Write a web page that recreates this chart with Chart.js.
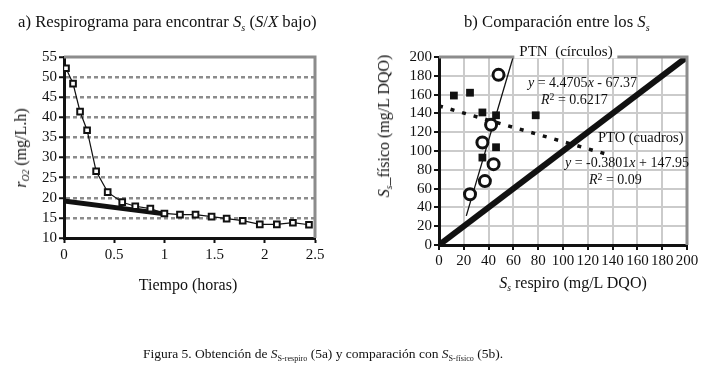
<!DOCTYPE html>
<html>
<head>
<meta charset="utf-8">
<script src="https://cdn.jsdelivr.net/npm/chart.js@4"></script>
<style>
  body { margin: 0; background: #fff; }
  #wrap { position: relative; width: 717px; height: 377px; overflow: hidden; font-family: "Liberation Serif", serif; color: #111; }
  canvas { position: absolute; left: 0; top: 0; }
  .t { position: absolute; white-space: nowrap; line-height: 1; }
  .t sub { font-size: 0.6em; vertical-align: -0.35em; }
  .t sup { font-size: 0.7em; vertical-align: 0.45em; }
  .rot { transform: translate(-50%, -50%) rotate(-90deg); }
  .ctr { transform: translate(-50%, -50%); }
</style>
</head>
<body>
<div id="wrap">
  <canvas id="chartA" width="717" height="377"></canvas>
  <canvas id="chartB" width="717" height="377"></canvas>

  <div class="t" style="left:18px;top:14px;font-size:16.7px">a) Respirograma para encontrar <i>S<sub>s</sub></i> (<i>S</i>/<i>X</i> bajo)</div>
  <div class="t" style="left:464px;top:14px;font-size:16.7px">b) Comparación entre los <i>S<sub>s</sub></i></div>

  <div class="t rot" style="left:22px;top:148px;font-size:16px"><i>r</i><sub><i>O2</i></sub> (mg/L.h)</div>
  <div class="t ctr" style="left:188px;top:285px;font-size:16px">Tiempo (horas)</div>

  <div class="t rot" style="left:385px;top:126px;font-size:16px"><i>S<sub>s</sub></i>_físico (mg/L DQO)</div>
  <div class="t ctr" style="left:573px;top:284px;font-size:16px"><i>S<sub>s</sub></i> respiro (mg/L DQO)</div>

  <div class="t ctr" style="left:566px;top:51px;font-size:15px;background:#fff;padding:0 5px">PTN&nbsp;&nbsp;(círculos)</div>
  <div class="t" style="left:528px;top:76px;font-size:14px"><i>y</i> = 4.4705<i>x</i> - 67.37</div>
  <div class="t" style="left:541px;top:92px;font-size:14px"><i>R</i><sup>2</sup> = 0.6217</div>
  <div class="t" style="left:598px;top:130px;font-size:14.5px">PTO (cuadros)</div>
  <div class="t" style="left:565px;top:156px;font-size:14px"><i>y</i> = -0.3801<i>x</i> + 147.95</div>
  <div class="t" style="left:589px;top:172px;font-size:14px"><i>R</i><sup>2</sup> = 0.09</div>

  <div class="t ctr" style="left:323px;top:355px;font-size:13.5px">Figura 5. Obtención de <i>S</i><sub>S-respiro</sub> (5a) y comparación con <i>S</i><sub>S-físico</sub> (5b).</div>
</div>
<script>
// a) respirograma
var tiempo = [0.02, 0.09, 0.16, 0.23, 0.32, 0.435, 0.58, 0.71, 0.86, 1.0, 1.155, 1.31, 1.47, 1.62, 1.78, 1.95, 2.12, 2.28, 2.44];
var rO2 = [52.2, 48.4, 41.4, 36.8, 26.6, 21.4, 18.9, 17.9, 17.3, 16.1, 15.8, 15.8, 15.3, 14.8, 14.3, 13.4, 13.4, 13.8, 13.3];
var baseT = [0, 1.0];
var baseR = [19.2, 16.0];

// b) comparacion
var circRespiro = [48, 42, 35, 44, 37, 25];
var circFisico = [181, 128, 109, 86, 68, 54];
var sqRespiro = [12, 25, 35, 46, 78, 46, 35];
var sqFisico = [159, 162, 141, 138, 138, 104, 93];
var circFit = [4.4705, -67.37], circFitX = [22, 59.8];
var sqFit = [-0.3801, 147.95], sqFitX = [0, 135];
var unoAuno = [0, 200];

var tickFont = { family: 'Liberation Serif', size: 15 };

// gray frame on top and right of the plot area
var frame = {
  id: 'frame',
  afterDatasetsDraw: function (chart) {
    var a = chart.chartArea, c = chart.ctx;
    c.save();
    c.strokeStyle = '#8c8c8c';
    c.lineWidth = 3;
    c.beginPath();
    c.moveTo(a.left, a.top);
    c.lineTo(a.right, a.top);
    c.lineTo(a.right, a.bottom);
    c.stroke();
    c.restore();
  }
};

function pts(xs, ys) {
  return xs.map(function (x, i) { return { x: x, y: ys[i] }; });
}
function fitLine(coef, xr) {
  return xr.map(function (x) { return { x: x, y: coef[0] * x + coef[1] }; });
}

new Chart(document.getElementById('chartA'), {
  type: 'line',
  data: {
    datasets: [{
      data: pts(tiempo, rO2),
      borderColor: '#111',
      borderWidth: 1.2,
      pointStyle: 'rect',
      pointRadius: 4,
      pointBorderWidth: 2,
      pointBackgroundColor: '#fff',
      pointBorderColor: '#111',
      order: 0
    }, {
      data: pts(baseT, baseR),
      borderColor: '#111',
      borderWidth: 5,
      pointRadius: 0,
      order: 1
    }]
  },
  options: {
    responsive: false,
    animation: false,
    plugins: { legend: { display: false }, tooltip: { enabled: false } },
    layout: { padding: { left: 24, top: 57, right: 402, bottom: 109 } },
    scales: {
      x: {
        type: 'linear', min: 0, max: 2.5,
        ticks: { stepSize: 0.5, color: '#111', font: tickFont, padding: 3, maxRotation: 0,
          callback: function (v) { return String(v); } },
        grid: { drawOnChartArea: false, tickLength: 5, tickColor: '#111', tickWidth: 2 },
        border: { color: '#111', width: 3 },
        afterFit: function (s) { s.height = 30; }
      },
      y: {
        min: 10, max: 55,
        ticks: { stepSize: 5, color: '#111', font: tickFont, padding: 2, autoSkip: false },
        grid: {
          color: function (ctx) { return (ctx.tick && ctx.tick.value > 10 && ctx.tick.value < 55) ? '#8c8c8c' : 'rgba(0,0,0,0)'; },
          lineWidth: 2.5, tickLength: 5, tickColor: '#111', tickWidth: 2
        },
        border: { color: '#111', width: 3, dash: [4, 3] },
        afterFit: function (s) { s.width = 40; }
      }
    }
  },
  plugins: [frame]
});

new Chart(document.getElementById('chartB'), {
  type: 'scatter',
  data: {
    datasets: [{
      data: pts(circRespiro, circFisico),
      pointStyle: 'circle',
      pointRadius: 5.5,
      pointBorderWidth: 3,
      pointBackgroundColor: '#fff',
      pointBorderColor: '#111',
      order: 0
    }, {
      data: pts(sqRespiro, sqFisico),
      pointStyle: 'rect',
      pointRadius: 5.5,
      pointBorderWidth: 0,
      pointBackgroundColor: '#111',
      order: 1
    }, {
      type: 'line',
      data: fitLine(circFit, circFitX),
      borderColor: '#111',
      borderWidth: 1.3,
      pointRadius: 0,
      order: 2
    }, {
      type: 'line',
      data: fitLine(sqFit, sqFitX),
      borderColor: '#111',
      borderWidth: 3.5,
      borderDash: [4, 8],
      pointRadius: 0,
      order: 3
    }, {
      type: 'line',
      data: pts(unoAuno, unoAuno),
      borderColor: '#111',
      borderWidth: 6,
      pointRadius: 0,
      order: 4
    }]
  },
  options: {
    responsive: false,
    animation: false,
    plugins: { legend: { display: false }, tooltip: { enabled: false } },
    layout: { padding: { left: 399, top: 57, right: 30, bottom: 102 } },
    scales: {
      x: {
        type: 'linear', min: 0, max: 200,
        ticks: { stepSize: 20, color: '#111', font: tickFont, padding: 2, maxRotation: 0, autoSkip: false },
        grid: { color: '#cbcbcb', lineWidth: 2, tickLength: 5, tickColor: '#111', tickWidth: 2 },
        border: { color: '#111', width: 3 },
        afterFit: function (s) { s.height = 30; }
      },
      y: {
        min: 0, max: 200,
        ticks: { stepSize: 20, color: '#111', font: tickFont, padding: 2, autoSkip: false },
        grid: { color: '#cbcbcb', lineWidth: 2, tickLength: 5, tickColor: '#111', tickWidth: 2 },
        border: { color: '#111', width: 3 },
        afterFit: function (s) { s.width = 40; }
      }
    }
  },
  plugins: [frame]
});
</script>
</body>
</html>
